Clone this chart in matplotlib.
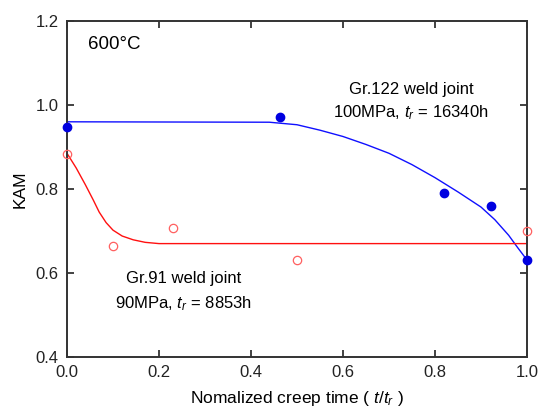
import matplotlib
matplotlib.use("Agg")
import matplotlib.pyplot as plt
import numpy as np

# Data points
gr122_x = [0.0, 0.463, 0.82, 0.922, 1.0]
gr122_y = [0.947, 0.972, 0.790, 0.760, 0.632]
gr91_x = [0.0, 0.10, 0.23, 0.50, 1.0]
gr91_y = [0.883, 0.664, 0.707, 0.631, 0.700]

# Fitted curves
fit122_x = [0.0, 0.44, 0.50, 0.55, 0.60, 0.65, 0.70, 0.75, 0.80, 0.85, 0.90, 0.93, 0.96, 0.98, 1.0]
fit122_y = [0.960, 0.959, 0.953, 0.940, 0.925, 0.906, 0.885, 0.858, 0.827, 0.793, 0.757, 0.727, 0.690, 0.660, 0.631]
fit91_x = [0.0, 0.02, 0.04, 0.057, 0.07, 0.085, 0.10, 0.12, 0.144, 0.17, 0.20, 1.0]
fit91_y = [0.885, 0.850, 0.810, 0.774, 0.745, 0.720, 0.702, 0.688, 0.679, 0.673, 0.670, 0.670]

plt.rcParams['font.family'] = ['Liberation Sans', 'DejaVu Sans']
plt.rcParams['mathtext.fontset'] = 'custom'
plt.rcParams['mathtext.rm'] = 'Liberation Sans'
plt.rcParams['mathtext.it'] = 'Liberation Sans:italic'

fig = plt.figure(figsize=(5.38, 4.09), dpi=100)
ax = fig.add_axes([67/538, 1-357/409, 460/538, 336/409])

ax.plot(fit122_x, fit122_y, color='#1010ff', lw=1.0, zorder=2, clip_on=False)
ax.plot(fit91_x, fit91_y, color='#ff1010', lw=1.0, zorder=2, clip_on=False)
ax.plot(gr122_x, gr122_y, 'o', color='#0000e0', ms=6, zorder=3, clip_on=False)
ax.plot(gr91_x, gr91_y, 'o', mfc='none', mec='#ff6060', mew=0.9, ms=6, zorder=3, clip_on=False)

ax.set_xlim(0, 1.0)
ax.set_ylim(0.4, 1.2)
ax.set_xticks([0.0, 0.2, 0.4, 0.6, 0.8, 1.0])
ax.set_yticks([0.4, 0.6, 0.8, 1.0, 1.2])
ax.set_xticklabels(['0.0', '0.2', '0.4', '0.6', '0.8', '1.0'])
ax.set_yticklabels(['0.4', '0.6', '0.8', '1.0', '1.2'])
ax.tick_params(direction='in', top=True, right=True, length=5, width=1.2,
               labelsize=12, colors='#222222', pad=6)
for s in ax.spines.values():
    s.set_linewidth(1.4)
    s.set_color('#333333')

ax.set_xlabel(r'Nomalized creep time ( $\mathit{t/t_r}$ )', fontsize=12.5, labelpad=6)
ax.set_ylabel('KAM', fontsize=12.5, labelpad=6)

ax.text(0.045, 1.143, '600°C', fontsize=13.5, ha='left', va='center')
ax.text(0.748, 1.036, 'Gr.122 weld joint', fontsize=12, ha='center', va='center')
ax.text(0.748, 0.981, r'100MPa, $\mathit{t_r}$ = 16340h', fontsize=12, ha='center', va='center')
ax.text(0.253, 0.588, 'Gr.91 weld joint', fontsize=12, ha='center', va='center')
ax.text(0.253, 0.526, r'90MPa, $\mathit{t_r}$ = 8853h', fontsize=12, ha='center', va='center')

fig.savefig('out.png', dpi=100)
